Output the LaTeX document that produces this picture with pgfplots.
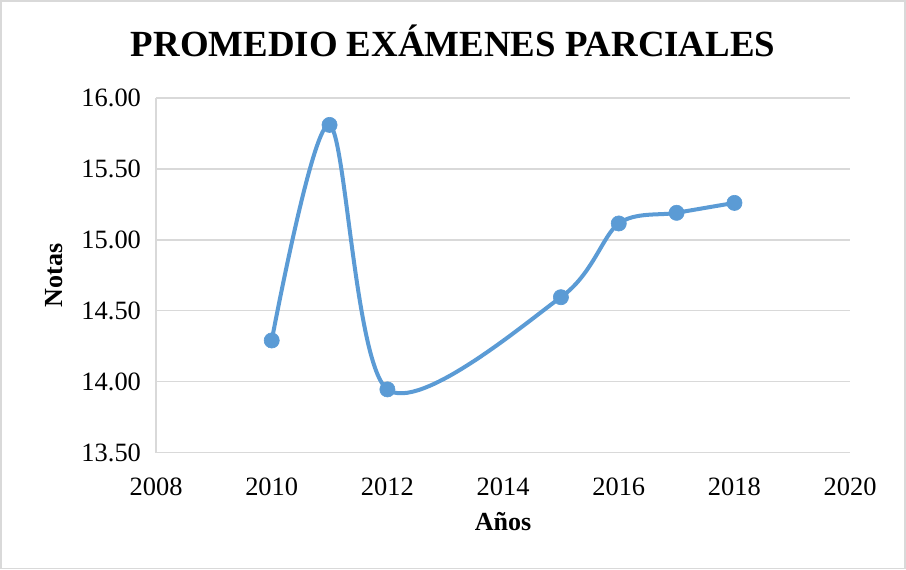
\documentclass[border=0pt]{standalone}
\usepackage{fontspec}
\setmainfont{Liberation Serif}
\usepackage{pgfplots}
\pgfplotsset{compat=1.18}
\definecolor{exblue}{HTML}{5B9BD5}
\definecolor{exgrid}{HTML}{D9D9D9}
\begin{document}
\begin{tikzpicture}
\begin{axis}[
  scale only axis,
  width=346.5pt, height=177pt,
  xmin=2008, xmax=2020, ymin=13.5, ymax=16,
  xtick={2008,2010,...,2020},
  ytick={13.5,14,...,16},
  axis x line*=bottom, axis y line*=left,
  axis line style={draw=exgrid, line width=0.8pt, -},
  major tick length=0pt,
  ymajorgrids, grid style={exgrid, line width=0.8pt},
  /pgf/number format/assume math mode=true,
  x tick label style={/pgf/number format/1000 sep={}, font=\fontsize{13.2}{15}\selectfont, yshift=-9pt},
  y tick label style={/pgf/number format/fixed, /pgf/number format/fixed zerofill, /pgf/number format/precision=2, font=\fontsize{13.2}{15}\selectfont, xshift=-4pt},
  title={PROMEDIO EXÁMENES PARCIALES},
  title style={font=\bfseries\fontsize{18.4}{22}\selectfont, at={(axis description cs:0.428,1.127)}, anchor=center},
  xlabel={Años}, ylabel={Notas},
  xlabel style={font=\bfseries\fontsize{13}{15}\selectfont, at={(axis description cs:0.5,-0.195)}, anchor=center},
  ylabel style={font=\bfseries\fontsize{13}{15}\selectfont, at={(axis description cs:-0.147,0.5)}, anchor=center},
  clip=false,
]
\addplot[exblue, line width=2pt, smooth, tension=0.5, mark=*, mark size=3.8pt, mark options={fill=exblue, draw=exblue, line width=0.3pt}]
coordinates {(2010,14.29) (2011,15.81) (2012,13.945) (2015,14.595) (2016,15.115) (2017,15.19) (2018,15.26)};
\end{axis}
\draw[exgrid, line width=0.8pt] ([shift={(-77.5pt,-58pt)}]current axis.south west) rectangle ([shift={(27.5pt,48.5pt)}]current axis.north east);
\end{tikzpicture}
\end{document}
